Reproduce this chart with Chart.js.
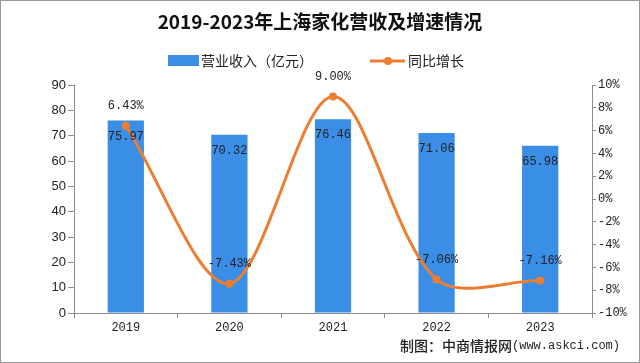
<!DOCTYPE html>
<html>
<head>
<meta charset="utf-8">
<script src="https://cdn.jsdelivr.net/npm/chart.js@4.4.1/dist/chart.umd.min.js"></script>
<style>
  html, body { margin: 0; padding: 0; background: #fff; }
  #wrap { width: 640px; height: 363px; position: relative; }
</style>
</head>
<body>
<div id="wrap"><canvas id="chart" width="640" height="363"></canvas></div>
<script>
// data
const years = ['2019', '2020', '2021', '2022', '2023'];
const revenue = [75.97, 70.32, 76.46, 71.06, 65.98];   // 亿元
const growth = [6.43, -7.43, 9.00, -7.06, -7.16];       // %
const titleText = '2019-2023年上海家化营收及增速情况';
const barLabel = '营业收入（亿元）';
const lineLabel = '同比增长';
const sourceCn = '制图：中商情报网';
const sourceUrl = '(www.askci.com)';

const BLUE = '#3a8ee6';
const ORANGE = '#ed7d31';
const AXIS = '#8c8c8c';

// title, legend, footer, value labels
const decorPlugin = {
  id: 'decor',
  beforeDraw(chart) {
    const ctx = chart.ctx;
    ctx.save();
    ctx.fillStyle = '#fff';
    ctx.fillRect(0, 0, chart.width, chart.height);
    ctx.restore();
  },
  afterDatasetsDraw(chart) {
    const ctx = chart.ctx;
    ctx.save();
    ctx.fillStyle = '#222';
    ctx.font = '12px "Liberation Mono", monospace';
    ctx.textAlign = 'center';
    ctx.textBaseline = 'middle';
    chart.getDatasetMeta(1).data.forEach((bar, i) => {
      ctx.fillText(revenue[i].toFixed(2), bar.x, bar.y + 16);
    });
    chart.getDatasetMeta(0).data.forEach((pt, i) => {
      ctx.fillText(growth[i].toFixed(2) + '%', pt.x, pt.y - 20);
    });
    ctx.restore();
  },
  afterDraw(chart) {
    const ctx = chart.ctx;
    ctx.save();
    // title
    ctx.fillStyle = '#111';
    ctx.font = 'bold 19px "Noto Sans CJK SC", sans-serif';
    ctx.textAlign = 'center';
    ctx.textBaseline = 'middle';
    ctx.fillText(titleText, 320, 22);

    // legend
    ctx.font = '14px "Noto Sans CJK SC", sans-serif';
    ctx.textAlign = 'left';
    ctx.fillStyle = BLUE;
    ctx.fillRect(168, 55, 31, 11);
    ctx.fillStyle = '#222';
    ctx.fillText(barLabel, 201, 61);
    ctx.strokeStyle = ORANGE;
    ctx.lineWidth = 3;
    ctx.beginPath();
    ctx.moveTo(370, 61);
    ctx.lineTo(405, 61);
    ctx.stroke();
    ctx.fillStyle = ORANGE;
    ctx.beginPath();
    ctx.arc(388, 61, 4, 0, Math.PI * 2);
    ctx.fill();
    ctx.fillStyle = '#222';
    ctx.fillText(lineLabel, 408, 61);

    // source
    ctx.textAlign = 'right';
    ctx.font = '12px "Liberation Mono", monospace';
    ctx.fillText(sourceUrl, 620, 346);
    const w = ctx.measureText(sourceUrl).width;
    ctx.font = '500 14px "Noto Sans CJK SC", sans-serif';
    ctx.fillText(sourceCn, 620 - w, 346);

    // frame
    ctx.strokeStyle = '#999';
    ctx.lineWidth = 1;
    ctx.strokeRect(0.5, 0.5, chart.width - 1, chart.height - 1);
    ctx.restore();
  }
};

new Chart(document.getElementById('chart').getContext('2d'), {
  data: {
    labels: years,
    datasets: [
      {
        type: 'line',
        label: lineLabel,
        data: growth,
        yAxisID: 'y1',
        borderColor: ORANGE,
        backgroundColor: ORANGE,
        borderWidth: 3,
        pointRadius: 4,
        pointBackgroundColor: ORANGE,
        pointBorderWidth: 0,
        tension: 0.32,
        order: 0
      },
      {
        type: 'bar',
        label: barLabel,
        data: revenue,
        yAxisID: 'y',
        backgroundColor: BLUE,
        barPercentage: 0.35,
        categoryPercentage: 1,
        order: 1
      }
    ]
  },
  options: {
    responsive: false,
    animation: false,
    layout: { padding: { top: 85, left: 0, right: 0, bottom: 0 } },
    plugins: {
      legend: { display: false },
      title: { display: false },
      tooltip: { enabled: false }
    },
    scales: {
      x: {
        offset: true,
        grid: { display: true, drawOnChartArea: false, offset: true, tickLength: 5, color: AXIS },
        border: { color: AXIS },
        ticks: { color: '#222', font: { family: '"Liberation Mono", monospace', size: 12 }, padding: 3 },
        afterFit(scale) { scale.height = 50; }
      },
      y: {
        position: 'left',
        min: 0,
        max: 90,
        ticks: { stepSize: 10, color: '#222', font: { family: '"Liberation Sans", Arial, sans-serif', size: 13 }, padding: 2 },
        grid: { drawOnChartArea: false, tickLength: 6, color: AXIS },
        border: { color: AXIS },
        afterFit(scale) { scale.width = 74; }
      },
      y1: {
        position: 'right',
        min: -10,
        max: 10,
        ticks: {
          stepSize: 2,
          color: '#222',
          font: { family: '"Liberation Mono", monospace', size: 12 },
          padding: 2,
          callback: v => v + '%'
        },
        grid: { drawOnChartArea: false, tickLength: 4, color: AXIS },
        border: { color: AXIS },
        afterFit(scale) { scale.width = 48; }
      }
    }
  },
  plugins: [decorPlugin]
});
</script>
</body>
</html>
